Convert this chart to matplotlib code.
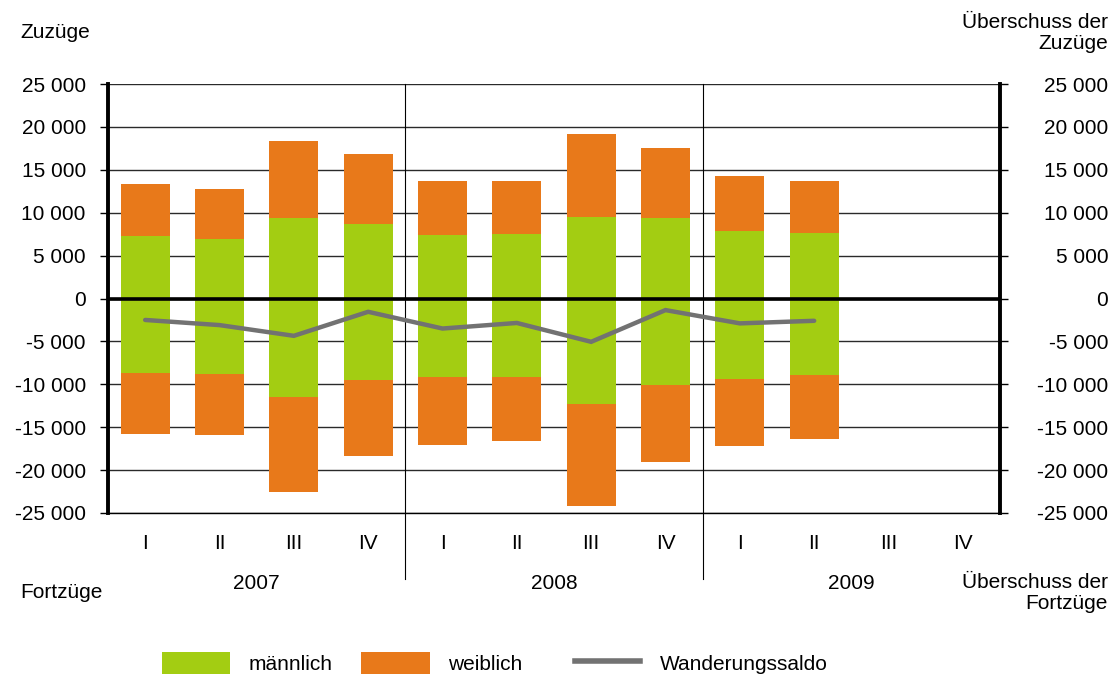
import matplotlib.pyplot as plt
import numpy as np
from matplotlib.patches import Patch
from matplotlib.lines import Line2D
from matplotlib.ticker import FuncFormatter

plt.rcParams["font.family"] = ["Liberation Sans", "DejaVu Sans"]
plt.rcParams["font.size"] = 15

quarters = ["I", "II", "III", "IV"] * 3
years = ["2007", "2008", "2009"]

# Zuzüge (positive), Fortzüge (negative); 2009 III/IV not yet available
zuzug_m = [7250, 6900, 9400, 8700, 7400, 7500, 9550, 9350, 7900, 7600, np.nan, np.nan]
zuzug_w = [6150, 5900, 9000, 8150, 6250, 6200, 9600, 8150, 6400, 6150, np.nan, np.nan]
fortzug_m = [-8700, -8800, -11450, -9500, -9150, -9150, -12250, -10050, -9400, -8900, np.nan, np.nan]
fortzug_w = [-7150, -7150, -11150, -8900, -7900, -7500, -11950, -8950, -7800, -7500, np.nan, np.nan]
saldo = [-2500, -3100, -4350, -1550, -3500, -2850, -5050, -1350, -2900, -2600, np.nan, np.nan]

green = "#A3CD12"
orange = "#E8791A"
grey = "#727272"


def fmt(v, pos):
    s = f"{abs(int(v)):,}".replace(",", " ")
    return ("-" if v < 0 else "") + s


fig = plt.figure(figsize=(11.19, 6.77), dpi=100)
ax = fig.add_axes([108 / 1119, 1 - 513 / 677, 892 / 1119, 429 / 677])

x = np.arange(len(quarters))
w = 0.66
ax.bar(x, zuzug_m, w, color=green, zorder=3)
ax.bar(x, zuzug_w, w, bottom=zuzug_m, color=orange, zorder=3)
ax.bar(x, fortzug_m, w, color=green, zorder=3)
ax.bar(x, fortzug_w, w, bottom=fortzug_m, color=orange, zorder=3)
ax.plot(x, saldo, color=grey, lw=3.2, solid_capstyle="round", solid_joinstyle="miter", zorder=5)

ax.set_xlim(-0.5, 11.5)
ax.set_ylim(-25000, 25000)
ax.set_yticks(np.arange(-25000, 25001, 5000))
ax.yaxis.set_major_formatter(FuncFormatter(fmt))
ax.grid(axis="y", color="#2a2a2a", lw=1.0, zorder=1)
ax.axhline(0, color="black", lw=2.6, zorder=4)

ax.spines["top"].set_visible(False)
ax.spines["left"].set_linewidth(2.8)
ax.spines["right"].set_linewidth(2.8)
ax.spines["bottom"].set_linewidth(1.0)

ax.set_xticks(x)
ax.set_xticklabels(quarters)
ax.tick_params(axis="x", length=0, pad=15)
ax.tick_params(axis="y", length=6, width=1.0, pad=10, left=True, right=True)

ax2 = ax.twinx()
ax2.set_ylim(ax.get_ylim())
ax2.set_yticks(np.arange(-25000, 25001, 5000))
ax2.yaxis.set_major_formatter(FuncFormatter(fmt))
ax2.tick_params(axis="y", length=6, width=1.0, pad=72)
for lbl in ax2.get_yticklabels():
    lbl.set_horizontalalignment("right")
for s in ax2.spines.values():
    s.set_visible(False)

# year separators extending below the axis
trans = ax.get_xaxis_transform()
for sep in [3.5, 7.5]:
    ax.plot([sep, sep], [1.0, -0.155], color="black", lw=0.8, transform=trans,
            clip_on=False, zorder=2)
for i, yr in enumerate(years):
    ax.text(4 * i + 1.5, -0.165, yr, transform=trans, ha="center", va="center")

fig.text(20 / 1119, 1 - 33 / 677, "Zuzüge", ha="left", va="center")
fig.text(20 / 1119, 1 - 592 / 677, "Fortzüge", ha="left", va="center")
fig.text(1108 / 1119, 1 - 33 / 677, "Überschuss der\nZuzüge", ha="right", va="center",
         linespacing=1.15, multialignment="right")
fig.text(1108 / 1119, 1 - 593 / 677, "Überschuss der\nFortzüge", ha="right", va="center",
         linespacing=1.15, multialignment="right")

bar_handles = [
    Patch(facecolor=green, label="männlich"),
    Patch(facecolor=orange, label="weiblich"),
]
line_handles = [Line2D([0], [0], color=grey, lw=4, label="Wanderungssaldo")]
leg_y = 1 - 663 / 677
fig.legend(handles=bar_handles, loc="center left", bbox_to_anchor=(162 / 1119, leg_y), ncol=2,
           frameon=False, borderpad=0, borderaxespad=0, handlelength=3.27,
           handleheight=1.3, handletextpad=0.87, columnspacing=1.4)
fig.legend(handles=line_handles, loc="center left", bbox_to_anchor=(575 / 1119, leg_y),
           frameon=False, borderpad=0, borderaxespad=0, handlelength=3.1,
           handleheight=1.3, handletextpad=0.96)

fig.savefig("out.png", dpi=100)
